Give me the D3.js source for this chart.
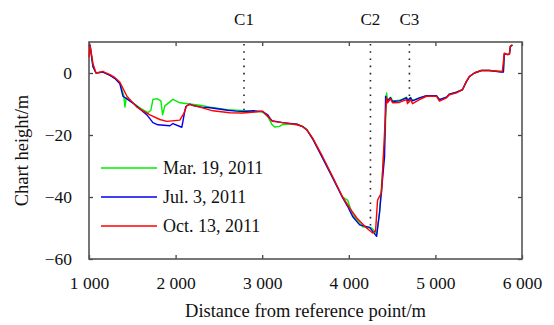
<!DOCTYPE html>
<html>
<head>
<meta charset="utf-8">
<script src="https://cdn.jsdelivr.net/npm/d3@7"></script>
<style>
  body { margin: 0; background: #fff; }
  svg text { font-family: "Liberation Serif", "Times New Roman", serif; fill: #111; }
</style>
</head>
<body>
<div id="chart"></div>
<script>
// distance (m) / chart height (m)
const marDist = [1000, 1012, 1046, 1081, 1161, 1242, 1300, 1357, 1400, 1415, 1430, 1507, 1600, 1680, 1715, 1738, 1784, 1830, 1850, 1876, 1969, 2049, 2160, 2300, 2400, 2500, 2600, 2700, 2800, 2900, 3000, 3064, 3110, 3144, 3200, 3237, 3398, 3467, 3514, 3583, 3698, 3813, 3928, 3986, 4044, 4160, 4263, 4300, 4321, 4355, 4420, 4436, 4447, 4482, 4505, 4586, 4620, 4667, 4678, 4713, 4736, 4816, 4897, 5012, 5047, 5128, 5162, 5243, 5312, 5358, 5393, 5450, 5531, 5623, 5760, 5785, 5796, 5831, 5854, 5866, 5889];
const marHeight = [8.5, 9, 2, 0, 0.3, -0.7, -1.7, -3.3, -7, -11, -8, -9.6, -11.5, -12.8, -12, -8.5, -8.3, -9, -13.5, -10.6, -8.5, -9.6, -10, -10.5, -11, -11.4, -11.8, -12, -12.2, -12.4, -12.5, -14, -16.5, -17.4, -17.2, -16.6, -16.4, -17.2, -18.2, -21.2, -27.4, -33.7, -40, -41, -45.7, -49.6, -50, -51, -52, -45, -20, -6.4, -8.8, -7.8, -9, -8.8, -8.4, -7.8, -8.8, -7.9, -8.9, -8, -7.3, -7.3, -8.6, -7.8, -6.8, -6.2, -5.4, -2.8, -1.2, 0, 0.8, 0.8, 0.4, 0.4, 6.2, 6, 6, 8.6, 9];

const julDist = [1000, 1012, 1046, 1081, 1161, 1242, 1300, 1357, 1392, 1507, 1669, 1738, 1796, 1934, 1969, 2072, 2095, 2118, 2165, 2200, 2300, 2400, 2500, 2600, 2700, 2800, 2900, 3000, 3064, 3110, 3237, 3398, 3467, 3514, 3583, 3698, 3813, 3928, 3986, 4044, 4125, 4240, 4321, 4355, 4413, 4425, 4447, 4482, 4505, 4586, 4620, 4667, 4678, 4713, 4736, 4816, 4897, 5012, 5047, 5128, 5162, 5243, 5312, 5358, 5393, 5450, 5531, 5623, 5760, 5785, 5796, 5831, 5854, 5866, 5889];
const julHeight = [8.5, 9, 2, 0, 0.3, -0.8, -1.8, -3.5, -7.5, -9.7, -13.5, -16, -16.7, -17, -16.3, -17.5, -14, -10.8, -10, -10.5, -11, -11.2, -11.6, -12, -12.3, -12.4, -12.2, -12.4, -13.5, -15.4, -16, -16.5, -17.3, -18.3, -21.3, -27.5, -33.8, -40.2, -43, -46.3, -49, -49.8, -52.7, -45, -27, -7.5, -9, -8, -9.2, -9, -8.6, -8, -9, -8, -9, -8, -7.3, -7.3, -8.6, -7.8, -6.8, -6.2, -5.4, -2.8, -1.2, 0, 0.8, 0.8, 0.3, 0.3, 6.2, 6, 6, 8.6, 9];

const octDist = [1000, 1012, 1046, 1081, 1161, 1196, 1242, 1300, 1357, 1438, 1553, 1703, 1818, 1899, 2049, 2095, 2130, 2165, 2280, 2430, 2626, 2776, 2914, 3006, 3064, 3121, 3237, 3398, 3467, 3514, 3583, 3698, 3813, 3928, 3986, 4009, 4090, 4205, 4275, 4309, 4332, 4378, 4413, 4436, 4447, 4482, 4505, 4586, 4620, 4667, 4678, 4713, 4736, 4816, 4897, 5012, 5047, 5128, 5162, 5243, 5312, 5358, 5393, 5450, 5531, 5623, 5773, 5796, 5831, 5854, 5866, 5889];
const octHeight = [5, 9, 3, 0, 0.5, 0, -0.5, -1.5, -3, -7.5, -11, -13.5, -15, -15.6, -15.2, -13, -10.5, -10.2, -11, -12.2, -12.8, -12.9, -12.6, -12.3, -14, -15.6, -16, -16.7, -17.3, -18.3, -21, -27, -33.4, -40, -42.5, -43.5, -46.7, -50, -51.6, -51, -41, -38.6, -19, -8, -9.6, -8.3, -9.6, -9.5, -9.1, -8.6, -9.9, -8.6, -9.9, -8.6, -7.5, -7.5, -9.1, -8, -7, -6.4, -5.4, -2.7, -1.1, 0, 0.8, 0.8, 0.5, 6.4, 5.9, 6, 8.6, 9.1];

const seriesNames = ["Mar. 19, 2011", "Jul. 3, 2011", "Oct. 13, 2011"];
const seriesColors = ["#00ee00", "#0000ee", "#ff0000"];

// section marks C1..C3: position and depth where the dotted line stops
const sectionNames = ["C1", "C2", "C3"];
const sectionDist = [2790, 4250, 4700];
const sectionEnd = [-12.6, -50.6, -9.4];

const xTicks = [1000, 2000, 3000, 4000, 5000, 6000];
const yTicks = [0, -20, -40, -60];

function drawChart() {
  const W = 554, H = 325;
  const margin = { top: 42, right: 32, bottom: 66, left: 89 };
  const width = W - margin.left - margin.right;
  const height = H - margin.top - margin.bottom;

  const svg = d3.select("#chart").append("svg")
    .attr("width", W)
    .attr("height", H);

  const g = svg.append("g")
    .attr("transform", `translate(${margin.left},${margin.top})`);

  const x = d3.scaleLinear().domain([1000, 6000]).range([0, width]);
  const y = d3.scaleLinear().domain([-60, 10]).range([height, 0]);

  const fmtX = d => d3.format(",")(d).replace(",", " ");
  const fmtY = d => d < 0 ? "\u2212" + Math.abs(d) : String(d);

  // axes, ticks pointing inward
  const axisStyle = sel => {
    sel.select(".domain").remove();
    sel.selectAll(".tick line").attr("stroke", "#444").attr("stroke-width", 1.3);
    sel.selectAll(".tick text").style("font-size", "17.5px").attr("fill", "#111");
  };

  g.append("g")
    .attr("transform", `translate(0,${height})`)
    .call(d3.axisBottom(x).tickValues(xTicks).tickFormat(fmtX).tickSizeInner(-4).tickPadding(18))
    .call(axisStyle);

  g.append("g")
    .call(d3.axisTop(x).tickValues(xTicks).tickFormat("").tickSizeInner(-4))
    .call(axisStyle);

  g.append("g")
    .call(d3.axisLeft(y).tickValues(yTicks).tickFormat(fmtY).tickSizeInner(-4).tickPadding(17))
    .call(axisStyle);

  g.append("g")
    .attr("transform", `translate(${width},0)`)
    .call(d3.axisRight(y).tickValues(yTicks).tickFormat("").tickSizeInner(-4))
    .call(axisStyle);

  g.append("rect")
    .attr("width", width)
    .attr("height", height)
    .attr("fill", "none")
    .attr("stroke", "#555")
    .attr("stroke-width", 1.6);

  // dotted section lines
  sectionNames.forEach((name, i) => {
    g.append("line")
      .attr("x1", x(sectionDist[i])).attr("x2", x(sectionDist[i]))
      .attr("y1", 2).attr("y2", y(sectionEnd[i]))
      .attr("stroke", "#222")
      .attr("stroke-width", 1.6)
      .attr("stroke-dasharray", "1.6,5.6");
    g.append("text")
      .attr("x", x(sectionDist[i]))
      .attr("y", -17)
      .attr("text-anchor", "middle")
      .style("font-size", "17px")
      .text(name);
  });

  const line = d3.line()
    .x(d => x(d[0]))
    .y(d => y(d[1]));

  const profiles = [
    d3.zip(marDist, marHeight),
    d3.zip(julDist, julHeight),
    d3.zip(octDist, octHeight)
  ];

  g.selectAll(".profile")
    .data(profiles)
    .join("path")
    .attr("class", "profile")
    .attr("fill", "none")
    .attr("stroke", (d, i) => seriesColors[i])
    .attr("stroke-width", 1.4)
    .attr("stroke-linejoin", "round")
    .attr("d", line);

  // Legend
  const legend = g.selectAll(".legend")
    .data(seriesNames)
    .join("g")
    .attr("class", "legend")
    .attr("transform", (d, i) => `translate(12,${126 + i * 29})`);

  legend.append("line")
    .attr("x1", 0).attr("x2", 56)
    .attr("stroke", (d, i) => seriesColors[i])
    .attr("stroke-width", 1.4);

  legend.append("text")
    .attr("x", 62)
    .attr("dy", "0.33em")
    .style("font-size", "18px")
    .text(d => d);

  // axis titles
  svg.append("text")
    .attr("x", margin.left + width / 2)
    .attr("y", 317)
    .attr("text-anchor", "middle")
    .style("font-size", "18.5px")
    .text("Distance from reference point/m");

  svg.append("text")
    .attr("transform", `translate(28,${margin.top + height / 2}) rotate(-90)`)
    .attr("text-anchor", "middle")
    .style("font-size", "18.5px")
    .text("Chart height/m");
}

drawChart();
</script>
</body>
</html>
